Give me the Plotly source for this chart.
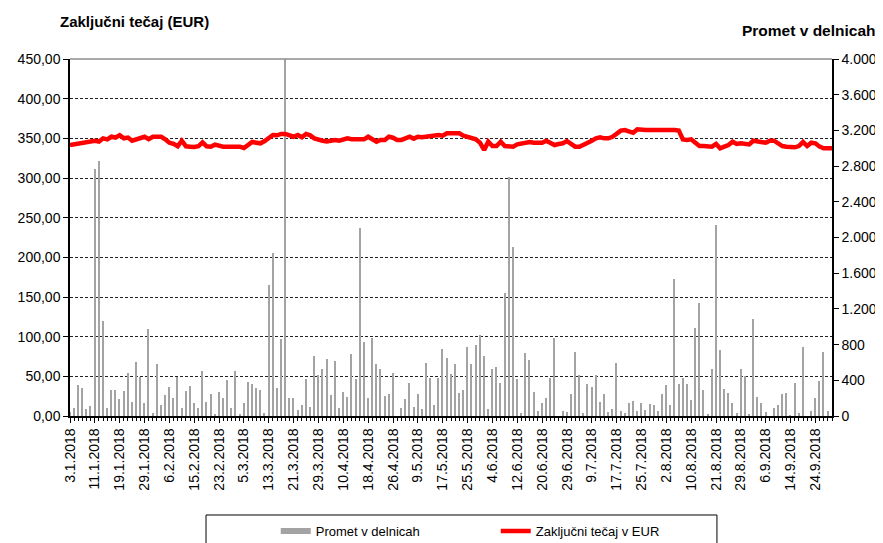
import pandas as pd
import plotly.graph_objects as go

# trading days on the exchange, 3.1.2018 - 28.9.2018
holidays = ["2018-02-08", "2018-03-30", "2018-04-02", "2018-04-27",
            "2018-05-01", "2018-05-02", "2018-06-25", "2018-08-15"]
days = [d for d in pd.bdate_range("2018-01-03", "2018-09-28")
        if d.strftime("%Y-%m-%d") not in holidays]
dates = [f"{d.day}.{d.month}.{d.year}" for d in days]

tick_labels = ["3.1.2018", "11.1.2018", "19.1.2018", "29.1.2018", "6.2.2018",
               "15.2.2018", "23.2.2018", "5.3.2018", "13.3.2018", "21.3.2018",
               "29.3.2018", "10.4.2018", "18.4.2018", "26.4.2018", "9.5.2018",
               "17.5.2018", "25.5.2018", "4.6.2018", "12.6.2018", "20.6.2018",
               "29.6.2018", "9.7.2018", "17.7.2018", "25.7.2018", "2.8.2018",
               "10.8.2018", "21.8.2018", "29.8.2018", "6.9.2018", "14.9.2018",
               "24.9.2018"]

# Promet v delnicah (shares traded)
volume = [40, 93, 344, 317, 75, 112, 2764, 2857, 1064, 93,
          291, 291, 187, 280, 478, 157, 609, 437, 142, 971,
          30, 586, 127, 232, 329, 202, 441, 93, 280, 336,
          142, 93, 504, 161, 250, 19, 273, 205, 400, 93,
          504, 19, 149, 385, 362, 317, 291, 30, 1468, 1830,
          317, 859, 4100, 198, 198, 67, 127, 418, 105, 672,
          456, 530, 642, 235, 612, 93, 269, 213, 698, 411,
          2110, 829, 198, 878, 579, 530, 224, 250, 486, 0,
          93, 187, 366, 105, 250, 82, 590, 426, 120, 426,
          754, 650, 471, 586, 261, 295, 777, 579, 792, 908,
          672, 82, 530, 553, 366, 1382, 2682, 1897, 411, 30,
          710, 627, 273, 56, 149, 198, 422, 878, 0, 52,
          45, 250, 721, 456, 37, 355, 329, 456, 161, 250,
          49, 82, 590, 56, 37, 149, 164, 56, 149, 71,
          138, 127, 56, 250, 344, 120, 1539, 355, 426, 355,
          176, 982, 1262, 288, 15, 523, 2144, 736, 306, 254,
          149, 30, 523, 448, 22, 1090, 213, 149, 49, 0,
          93, 127, 246, 258, 11, 366, 30, 769, 0, 56,
          202, 396, 721, 60, 0]

# Zaključni tečaj v EUR (closing price)
close = [341.6, 342.5, 343.7, 344.0, 344.5, 346.6, 347.0, 346.0, 350.0, 348.7,
         352.0, 351.0, 354.0, 350.0, 351.0, 347.0, 349.0, 351.0, 352.0, 349.0,
         352.0, 352.0, 352.0, 348.7, 344.5, 343.0, 340.0, 347.0, 340.0, 339.5,
         339.0, 340.0, 345.0, 340.0, 339.5, 342.0, 340.0, 339.5, 339.5, 339.5,
         339.5, 339.5, 337.8, 342.0, 345.4, 344.5, 343.7, 346.6, 350.8, 354.2,
         353.8, 355.5, 355.5, 353.8, 352.0, 354.2, 351.3, 355.5, 353.8, 350.0,
         348.0, 347.0, 346.2, 347.0, 348.0, 347.0, 349.0, 350.0, 349.0, 349.0,
         348.7, 348.7, 352.0, 348.7, 345.8, 348.0, 348.0, 352.0, 350.8, 348.0,
         348.0, 350.0, 352.0, 349.6, 352.0, 351.3, 352.0, 353.0, 353.4, 354.2,
         353.4, 356.3, 356.3, 356.3, 356.3, 353.4, 352.0, 350.0, 348.7, 344.5,
         335.3, 345.8, 340.3, 340.3, 345.8, 340.3, 339.5, 339.5, 342.4, 343.7,
         343.7, 345.4, 344.5, 344.5, 344.5, 347.0, 343.7, 341.6, 342.9, 343.7,
         346.6, 342.9, 339.5, 339.5, 341.6, 344.5, 347.0, 350.0, 351.3, 350.0,
         350.0, 352.0, 356.3, 359.7, 360.5, 358.0, 357.0, 361.3, 360.5, 360.5,
         360.5, 360.5, 361.3, 361.8, 360.5, 360.5, 360.5, 359.7, 348.7, 348.0,
         348.7, 344.5, 340.3, 340.3, 339.5, 339.5, 342.9, 337.4, 339.5, 341.6,
         345.8, 342.9, 343.7, 343.7, 342.4, 347.0, 345.8, 345.0, 344.5, 347.0,
         347.0, 343.7, 340.3, 339.5, 339.5, 338.7, 340.3, 345.4, 340.3, 344.5,
         343.7, 339.5, 337.4, 337.4, 337.4]

x = list(range(len(dates)))
tick_pos = [dates.index(t) for t in tick_labels]

FONT = "Arial, 'Liberation Sans', sans-serif"
BAR_GREY = "#a3a3a3"

fig = go.Figure()

# volume on the main (right-side) axis so the price line is drawn on top
fig.add_trace(go.Bar(x=x, y=volume, yaxis="y", width=0.35,
                     marker=dict(color=BAR_GREY, line=dict(width=0)),
                     name="Promet v delnicah", showlegend=False))
# legend stand-in for the bars (Excel shows a thick line sample)
fig.add_trace(go.Scatter(x=[None], y=[None], mode="lines",
                         line=dict(color=BAR_GREY, width=6),
                         name="Promet v delnicah"))
fig.add_trace(go.Scatter(x=x, y=close, yaxis="y2", mode="lines",
                         line=dict(color="#ff0000", width=4.5),
                         name="Zaključni tečaj v EUR"))

# the page body adds an 8px offset, so the figure is 8px smaller each way
fig.update_layout(
    width=875, height=535,
    margin=dict(l=62, r=51, t=51, b=127, autoexpand=False),
    paper_bgcolor="white", plot_bgcolor="white",
    separators=",.",
    font=dict(family=FONT, size=14, color="black"),
    bargap=0,
    xaxis=dict(
        range=[0, len(dates) - 1], tickmode="array",
        tickvals=tick_pos, ticktext=tick_labels, tickangle=-90,
        ticks="outside", ticklen=5, tickcolor="black",
        showline=True, linecolor="black", linewidth=1.5,
        showgrid=False, zeroline=False, automargin=False,
        tickfont=dict(size=14),
        minor=dict(ticks="outside", ticklen=3, tick0=0, dtick=1,
                   tickcolor="black", showgrid=False),
    ),
    yaxis=dict(
        side="right", range=[0, 4000], dtick=400, tickformat=",d",
        ticks="outside", ticklen=5, tickcolor="black",
        showline=True, linecolor="black", linewidth=1.5,
        showgrid=False, zeroline=False, automargin=False,
    ),
    yaxis2=dict(
        side="left", overlaying="y", range=[0, 450], dtick=50,
        tickformat=",.2f", ticks="outside", ticklen=5, tickcolor="black",
        showline=True, linecolor="black", linewidth=1.5,
        showgrid=True, gridcolor="#222222", gridwidth=1, griddash="3px,2px",
        zeroline=False, automargin=False,
    ),
    legend=dict(
        orientation="h", xref="container", yref="container",
        x=0.306, xanchor="left", y=0.0505, yanchor="top",
        entrywidth=175, entrywidthmode="pixels",
        font=dict(size=13), bgcolor="rgba(0,0,0,0)",
    ),
    shapes=[
        # grey top border of the plot area
        dict(type="line", xref="paper", yref="paper", x0=0, x1=1, y0=1, y1=1,
             line=dict(color="#8c8c8c", width=1.5)),
        # legend frame (cut off by the bottom edge like in the original)
        dict(type="rect", xref="paper", yref="paper",
             x0=0.1785, x1=0.849, y0=-0.2773, y1=-0.45,
             line=dict(color="black", width=1)),
    ],
    annotations=[
        dict(text="<b>Zaključni tečaj (EUR)</b>", xref="paper", yref="paper",
             x=-0.016, y=1.104, xanchor="left", yanchor="middle",
             showarrow=False, font=dict(size=15)),
        dict(text="<b>Promet v delnicah</b>", xref="paper", yref="paper",
             x=1.06, y=1.081, xanchor="right", yanchor="middle",
             showarrow=False, font=dict(size=15.5)),
    ],
)

fig.write_html("out.html")
